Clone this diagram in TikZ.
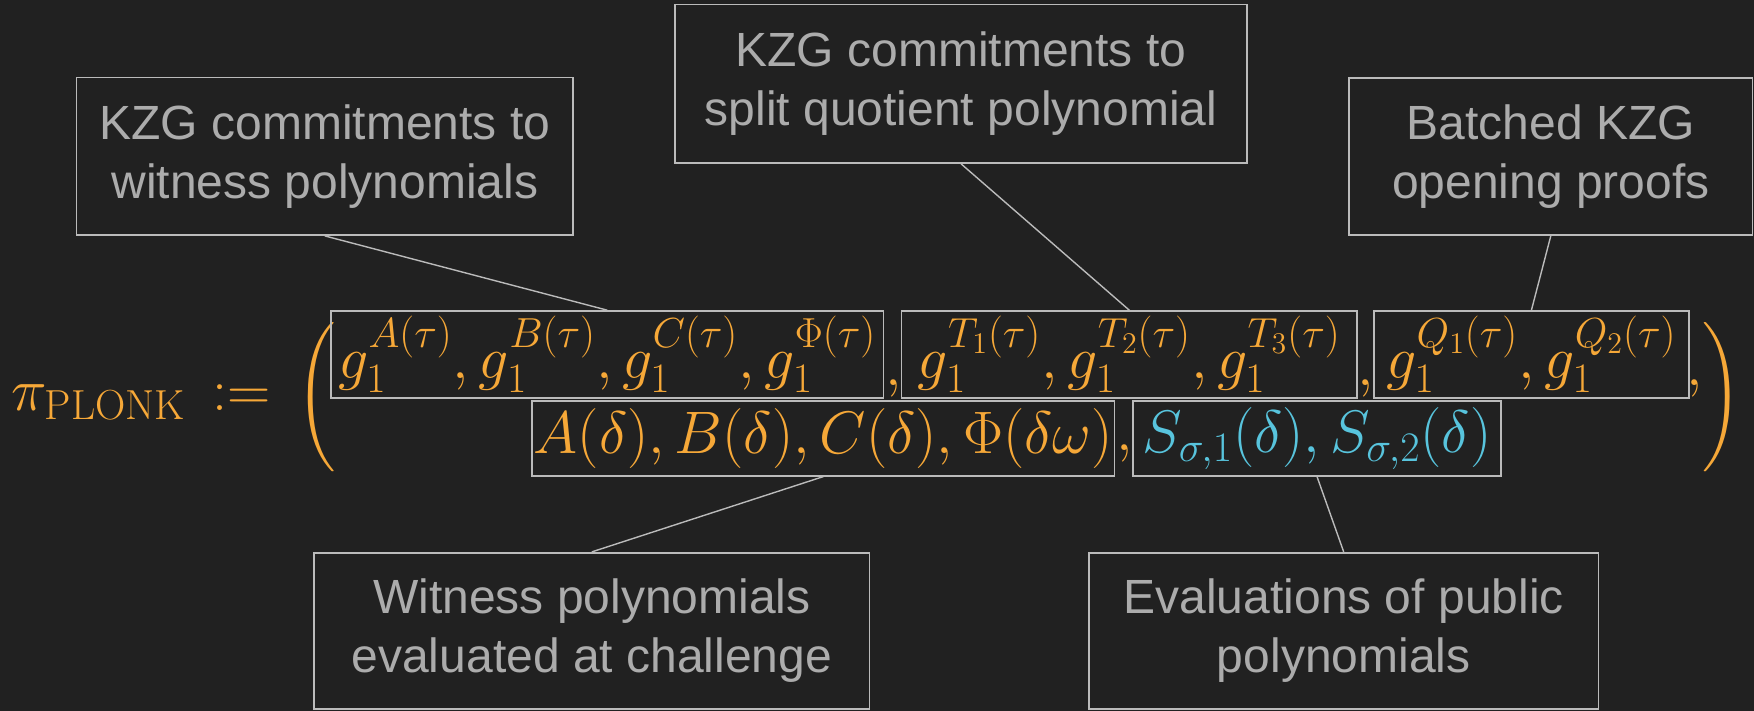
\documentclass[tikz,border=0pt]{standalone}
\usepackage{fix-cm}
\usepackage{amsmath}
\usepackage{fontspec}
\setsansfont{Liberation Sans}
\usepackage{tikz}
\usetikzlibrary{positioning}
\definecolor{bgdark}{RGB}{33,33,33}
\definecolor{boxgray}{RGB}{187,187,187}
\definecolor{labelgray}{RGB}{172,172,172}
\definecolor{plonkorange}{RGB}{246,168,56}
\definecolor{plonkcyan}{RGB}{88,196,221}

\begin{document}
\begin{tikzpicture}[x=0.5pt, y=-0.5pt, every node/.style={font=\fontsize{30}{36}\selectfont}]
\tikzset{lbl/.style={draw=boxgray, line width=0.8pt, text=labelgray, align=center, font=\sffamily\fontsize{24}{29.5}\selectfont}}
\tikzset{term/.style={draw=boxgray, line width=0.8pt, text=plonkorange, inner sep=0pt}}
\tikzset{punct/.style={text=plonkorange, inner sep=0pt, anchor=base}}
\tikzset{link/.style={draw=boxgray, line width=0.7pt}}

\useasboundingbox (0,0) rectangle (1754,711);
\fill[bgdark] (0,0) rectangle (1754,711);

% the proof tuple
\node[punct, anchor=base west] (lhs) at (11,410) {$\pi_{\mathrm{PLONK}}\, :=$};
\node[punct, anchor=center] (lpar) at (316,397) {$\bigg($};
\node[punct, anchor=center] (rpar) at (1722,397) {$\bigg)$};

\node[term, minimum width=276.3pt, minimum height=43.5pt] (gbox) at (607.3,354.5)
  {$g_1^{A(\tau)}, g_1^{B(\tau)}, g_1^{C(\tau)}, g_1^{\Phi(\tau)}$};
\node[term, minimum width=227.8pt, minimum height=43.5pt] (tbox) at (1129.3,354.5)
  {$g_1^{T_1(\tau)}, g_1^{T_2(\tau)}, g_1^{T_3(\tau)}$};
\node[term, minimum width=157.6pt, minimum height=43.5pt] (qbox) at (1531.4,354.5)
  {$g_1^{Q_1(\tau)}, g_1^{Q_2(\tau)}$};
\node[term, minimum width=291.3pt, minimum height=37.4pt] (abox) at (823.3,438.4)
  {$A(\delta), B(\delta), C(\delta), \Phi(\delta\omega)$};
\node[term, text=plonkcyan, minimum width=184pt, minimum height=37.4pt] (sbox) at (1317,438.4)
  {$S_{\sigma,1}(\delta), S_{\sigma,2}(\delta)$};

\node[punct] (c1) at (893.5,385) {$,$};
\node[punct] (c2) at (1366,385) {$,$};
\node[punct] (c3) at (1695,385) {$,$};
\node[punct] (c4) at (1125,450) {$,$};

% labels
\node[lbl, minimum width=248.3pt, minimum height=78.7pt] (lab1) at (324.8,156.4)
  {KZG commitments to\\witness polynomials};
\node[lbl, minimum width=286pt, minimum height=79.3pt] (lab2) at (961,83.7)
  {KZG commitments to\\split quotient polynomial};
\node[lbl, minimum width=201.8pt, minimum height=78.5pt] (lab3) at (1550.8,156.5)
  {Batched KZG\\opening proofs};
\node[lbl, minimum width=277.8pt, minimum height=78.2pt] (lab4) at (591.8,630.9)
  {Witness polynomials\\evaluated at challenge};
\node[lbl, minimum width=254.7pt, minimum height=78.2pt] (lab5) at (1343.7,630.9)
  {Evaluations of public\\polynomials};

\draw[link] (lab1.south) -- (gbox.north);
\draw[link] (lab2.south) -- (tbox.north);
\draw[link] (lab3.south) -- (qbox.north);
\draw[link] (lab4.north) -- (abox.south);
\draw[link] (lab5.north) -- (sbox.south);
\end{tikzpicture}
\end{document}
